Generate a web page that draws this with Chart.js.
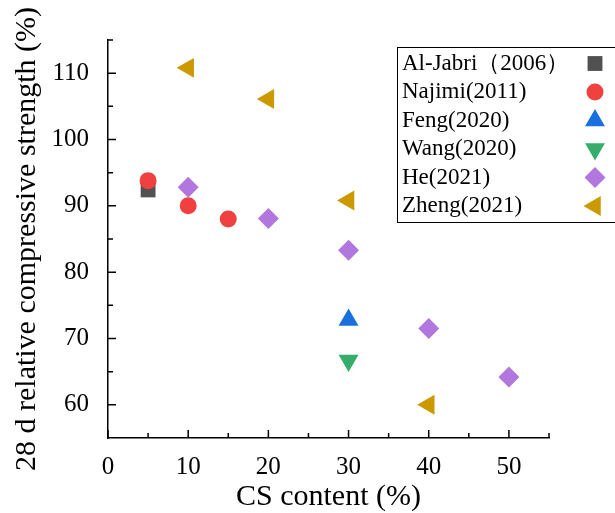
<!DOCTYPE html>
<html>
<head>
<meta charset="utf-8">
<script src="https://cdn.jsdelivr.net/npm/chart.js@4.4.1/dist/chart.umd.min.js"></script>
<style>
  html, body { margin: 0; padding: 0; background: #fff; }
  #wrap { width: 615px; height: 513px; }
</style>
</head>
<body>
<div id="wrap"><canvas id="cs"></canvas></div>
<script>
// CS content (%) vs 28 d relative compressive strength (%)
const studies = ["Al-Jabri\uFF082006\uFF09", "Najimi(2011)", "Feng(2020)", "Wang(2020)", "He(2021)", "Zheng(2021)"];

const alJabriX = [5];
const alJabriY = [92.4];
const najimiX = [5, 10, 15];
const najimiY = [93.8, 90.0, 88.0];
const fengX = [30];
const fengY = [72.8];
const wangX = [30];
const wangY = [66.7];
const heX = [10, 20, 30, 40, 50];
const heY = [92.8, 88.1, 83.3, 71.5, 64.2];
const zhengX = [10, 20, 30, 40];
const zhengY = [110.8, 106.1, 90.8, 60.0];

const xTicks = [0, 10, 20, 30, 40, 50];
const yTicks = [60, 70, 80, 90, 100, 110];

const colors = ["#515151", "#F14040", "#1A6FDF", "#37AD6B", "#B177DE", "#CC9900"];
const styles = [
  { pointStyle: "rect", rotation: 0, radius: 10.5 },
  { pointStyle: "circle", rotation: 0, radius: 8.5 },
  { pointStyle: "triangle", rotation: 0, radius: 11.5 },
  { pointStyle: "triangle", rotation: 180, radius: 11.5 },
  { pointStyle: "rectRot", rotation: 0, radius: 10.5 },
  { pointStyle: "triangle", rotation: -90, radius: 11.5 }
];

const serif = "'Liberation Serif', 'Times New Roman', serif";
const pts = (xs, ys) => xs.map((x, i) => ({ x: x, y: ys[i] }));
const series = [
  pts(alJabriX, alJabriY), pts(najimiX, najimiY), pts(fengX, fengY),
  pts(wangX, wangY), pts(heX, heY), pts(zhengX, zhengY)
];

const datasets = series.map((d, i) => ({
  label: studies[i],
  data: d,
  order: series.length - i,
  backgroundColor: colors[i],
  borderWidth: 0,
  pointStyle: styles[i].pointStyle,
  rotation: styles[i].rotation,
  pointRadius: styles[i].radius,
  pointHoverRadius: styles[i].radius
}));

// inward major/minor tick marks, as in Origin
const innerTicks = {
  id: "innerTicks",
  afterDraw(chart) {
    const ctx = chart.ctx;
    const xs = chart.scales.x, ys = chart.scales.y;
    const y0 = ys.bottom, x0 = xs.left;
    ctx.save();
    ctx.strokeStyle = "#000";
    ctx.lineWidth = 1.5;
    ctx.beginPath();
    xTicks.forEach(v => {
      const p = xs.getPixelForValue(v);
      ctx.moveTo(p, y0); ctx.lineTo(p, y0 - 8);
      const m = xs.getPixelForValue(v + 5);
      ctx.moveTo(m, y0); ctx.lineTo(m, y0 - 5);
    });
    yTicks.forEach(v => {
      const p = ys.getPixelForValue(v);
      ctx.moveTo(x0, p); ctx.lineTo(x0 + 8, p);
      const m = ys.getPixelForValue(v + 5);
      ctx.moveTo(x0, m); ctx.lineTo(x0 + 5, m);
    });
    ctx.stroke();
    ctx.restore();
  }
};

// boxed legend with text left and marker on the right
const boxLegend = {
  id: "boxLegend",
  afterDraw(chart) {
    const ctx = chart.ctx;
    const left = 397.5, top = 47.5, right = 625, bottom = 222.5;
    const rowTop = 63.5, rowStep = 28.5;
    ctx.save();
    ctx.strokeStyle = "#000";
    ctx.lineWidth = 1;
    ctx.strokeRect(left, top, right - left, bottom - top);
    ctx.font = "23px " + serif;
    ctx.textAlign = "left";
    ctx.textBaseline = "middle";
    chart.data.datasets.forEach((ds, i) => {
      const y = rowTop + i * rowStep;
      ctx.fillStyle = "#000";
      ctx.fillText(ds.label, 402, y);
      ctx.fillStyle = ds.backgroundColor;
      Chart.helpers.drawPoint(ctx, {
        pointStyle: ds.pointStyle, rotation: ds.rotation,
        radius: ds.pointRadius, borderWidth: 0
      }, 595, y);
    });
    ctx.restore();
  }
};

new Chart(document.getElementById("cs"), {
  type: "scatter",
  data: { datasets: datasets },
  options: {
    responsive: true,
    maintainAspectRatio: false,
    animation: false,
    layout: { padding: { top: 40, right: 66, left: 0, bottom: 0 } },
    plugins: { legend: { display: false }, tooltip: { enabled: false } },
    scales: {
      x: {
        type: "linear",
        min: 0, max: 55,
        afterFit: s => { s.height = 75; },
        afterBuildTicks: s => { s.ticks = xTicks.map(v => ({ value: v })); },
        grid: { display: false },
        border: { display: true, color: "#000", width: 1.5 },
        ticks: { color: "#000", padding: 6, maxRotation: 0, font: { family: serif, size: 25 } },
        title: {
          display: true, text: "CS content (%)", color: "#000",
          padding: { top: 0, bottom: 1 },
          font: { family: serif, size: 30, lineHeight: 1 }
        }
      },
      y: {
        type: "linear",
        min: 55, max: 115,
        afterFit: s => { s.width = 108; },
        afterBuildTicks: s => { s.ticks = yTicks.map(v => ({ value: v })); },
        grid: { display: false },
        border: { display: true, color: "#000", width: 1.5 },
        ticks: { color: "#000", padding: 11, font: { family: serif, size: 25 } },
        title: {
          display: true, text: "28 d relative compressive strength (%)", color: "#000",
          padding: { top: 12, bottom: 0 },
          font: { family: serif, size: 30, lineHeight: 1 }
        }
      }
    }
  },
  plugins: [innerTicks, boxLegend]
});
</script>
</body>
</html>
